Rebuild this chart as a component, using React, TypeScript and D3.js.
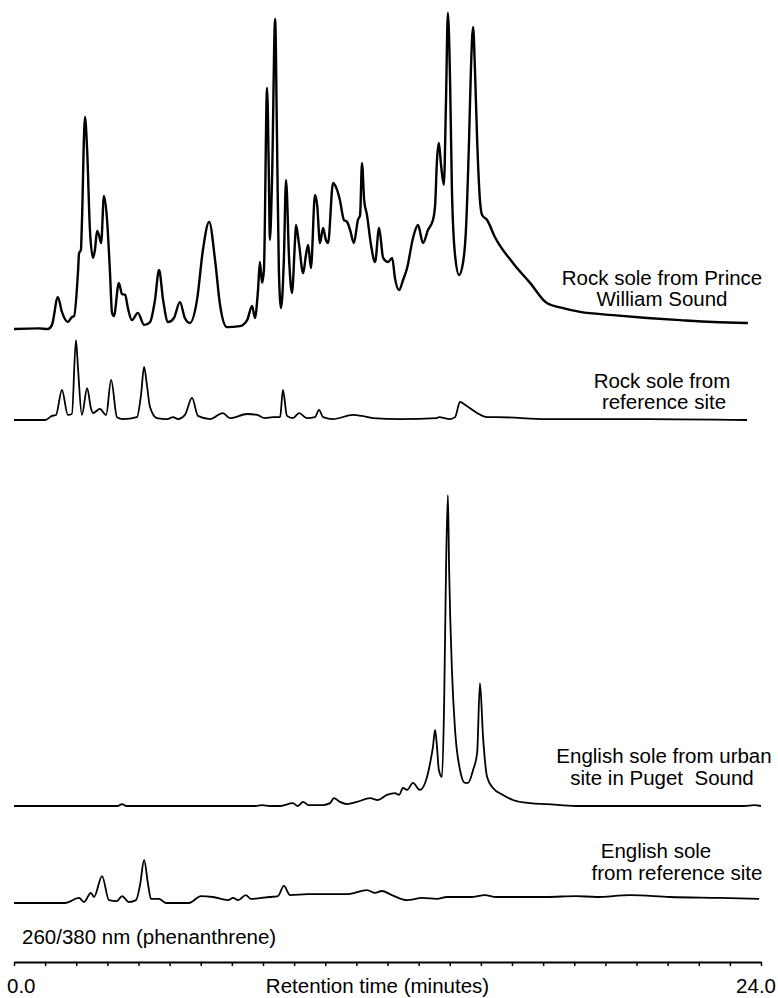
import React, { useRef, useEffect } from "react";
import * as d3 from "d3";

const width = 778;
const height = 998;

// retention time (minutes) / relative fluorescence (0-100)
const pwsTime = [0, 0.8, 1.09, 1.22, 1.41, 1.54, 1.73, 1.86, 1.93, 2.06, 2.09, 2.15, 2.18, 2.28, 2.35, 2.44, 2.54, 2.6, 2.67, 2.73, 2.8, 2.89, 2.99, 3.08, 3.15, 3.21, 3.37, 3.47, 3.57, 3.66, 3.79, 3.98, 4.18, 4.37, 4.53, 4.66, 4.79, 4.95, 5.14, 5.33, 5.49, 5.65, 5.88, 6.07, 6.27, 6.46, 6.62, 6.84, 7.26, 7.49, 7.65, 7.74, 7.84, 7.9, 7.97, 8.03, 8.13, 8.19, 8.22, 8.29, 8.39, 8.45, 8.51, 8.58, 8.67, 8.74, 8.84, 8.93, 9.03, 9.06, 9.16, 9.29, 9.38, 9.45, 9.54, 9.67, 9.74, 9.83, 9.93, 10.02, 10.09, 10.25, 10.38, 10.47, 10.6, 10.7, 10.8, 10.92, 11.05, 11.12, 11.18, 11.25, 11.34, 11.47, 11.6, 11.73, 11.86, 12.02, 12.15, 12.24, 12.37, 12.5, 12.63, 12.82, 12.98, 13.14, 13.3, 13.46, 13.53, 13.59, 13.65, 13.72, 13.81, 13.88, 13.94, 14.01, 14.07, 14.17, 14.3, 14.43, 14.52, 14.62, 14.68, 14.75, 14.81, 14.88, 14.97, 15.04, 15.2, 15.45, 16.03, 16.58, 17.12, 17.64, 18.19, 19.24, 20.34, 21.4, 22.46, 23.58];
const pwsResp = [0, 0.2, 0, 1.3, 10.1, 5.4, 2.2, 3.8, 4.1, 18.7, 24, 25, 33, 67.1, 56.6, 31.3, 22.5, 25, 31, 29.7, 27.2, 42.1, 34.5, 18.7, 5.1, 4.1, 14.6, 11.1, 10.8, 6.6, 2.8, 5.1, 1.3, 2.2, 9.2, 18.7, 9.2, 2.2, 3.5, 8.5, 3.5, 1.9, 9.2, 25, 33.9, 21.8, 7.6, 0.6, 0.9, 2.8, 7.3, 3.5, 12.3, 21.2, 14.6, 18.7, 76.3, 47.2, 28.2, 47.2, 98.1, 59.8, 18.7, 6.6, 21.8, 47.2, 21.8, 11.4, 28.2, 32.9, 26.6, 17.7, 23.4, 26.6, 19.3, 42.4, 39.2, 27.2, 32, 28.2, 27.2, 46.2, 44, 40.8, 34.5, 33.9, 31.3, 27.2, 34.5, 36.1, 52.5, 40.8, 36.1, 26.6, 21.2, 32, 22.5, 21.2, 22.5, 16.1, 12.3, 15.5, 19.3, 28.8, 32.9, 27.2, 31.3, 34.5, 39.2, 53.5, 58.9, 51.9, 45.6, 72.5, 100, 78.8, 44, 23.4, 17.1, 21.2, 31.3, 59.8, 82, 95.6, 82, 59.8, 40.8, 36.1, 34.5, 29.1, 20.9, 14.6, 8.2, 6.6, 5.4, 4.4, 3.5, 2.8, 2.2, 1.9];

const rockRefTime = [0, 1.0, 1.22, 1.35, 1.54, 1.73, 1.86, 1.99, 2.06, 2.18, 2.35, 2.47, 2.54, 2.76, 2.96, 3.12, 3.31, 3.5, 3.95, 4.08, 4.18, 4.27, 4.37, 4.59, 4.92, 5.11, 5.27, 5.49, 5.72, 5.91, 6.3, 6.71, 6.94, 7.49, 7.81, 8.06, 8.32, 8.55, 8.64, 8.77, 8.96, 9.16, 9.41, 9.67, 9.8, 9.93, 10.25, 10.89, 11.18, 11.53, 12.4, 13.59, 13.65, 14.01, 14.17, 14.33, 14.55, 14.88, 15.2, 15.52, 17.12, 20.34, 23.55];
const rockRefResp = [0, 0, 1.3, 1.6, 9.5, 1.6, 1.9, 25.3, 15.8, 1.6, 10.1, 3.8, 2.2, 3.5, 1.6, 12.7, 0.9, 0.3, 0.9, 7.9, 16.8, 11.1, 4.1, 0.6, 0.3, 0.9, 0.3, 1.6, 7.0, 1.3, 0.3, 2.2, 0.6, 1.9, 1.6, 0.6, 0.9, 0.9, 9.5, 1.3, 0.6, 2.2, 0.6, 0.9, 3.2, 0.9, 0.3, 1.6, 1.3, 0.6, 0.3, 0.6, 0.9, 0.3, 0.9, 5.7, 4.4, 2.2, 0.9, 0.9, 0.3, 0.3, 0];

const urbanTime = [0, 3.34, 3.47, 3.6, 7.74, 7.97, 8.22, 8.55, 8.96, 9.12, 9.29, 9.45, 9.93, 10.15, 10.28, 10.47, 10.7, 11.02, 11.44, 11.69, 11.98, 12.24, 12.37, 12.5, 12.63, 12.82, 13.04, 13.27, 13.37, 13.46, 13.53, 13.59, 13.65, 13.75, 13.82, 13.88, 13.94, 13.98, 14.07, 14.17, 14.33, 14.49, 14.59, 14.75, 14.88, 14.97, 15.07, 15.2, 15.39, 15.71, 16.03, 16.58, 17.12, 18.06, 23.45, 23.78, 24.0];
const urbanResp = [0, 0, 0.6, 0, 0, 0.3, 0, 0, 0.9, 0, 1.3, 0.3, 0.3, 0.9, 2.5, 1.3, 0.6, 1.3, 2.5, 1.9, 3.5, 4.1, 3.5, 5.7, 5.1, 7.3, 5.1, 9.2, 13.6, 18.7, 24.1, 18.7, 11.4, 9.2, 32.6, 74.7, 98.4, 74.7, 43.0, 24.1, 11.4, 7.3, 7.3, 11.4, 16.8, 38.9, 21.8, 9.2, 5.7, 3.5, 1.9, 0.9, 0.6, 0, 0, 0.3, 0];

const englishRefTime = [0, 1.64, 2.09, 2.25, 2.47, 2.57, 2.83, 3.05, 3.31, 3.47, 3.69, 3.92, 4.05, 4.18, 4.31, 4.4, 4.66, 4.88, 5.62, 6.01, 6.39, 6.88, 7.04, 7.2, 7.45, 7.61, 7.94, 8.22, 8.48, 8.67, 8.87, 9.45, 10.7, 11.34, 11.6, 11.82, 12.14, 12.63, 13.11, 13.59, 13.91, 14.68, 15.13, 15.49, 17.09, 18.06, 18.7, 19.79, 21.08, 22.68, 23.94];
const englishRefResp = [0, 0, 1.6, 0.3, 3.2, 1.9, 8.5, 0.9, 0.6, 2.2, 0.3, 0.9, 5.7, 13.6, 5.7, 1.3, 1.3, 0, 0, 2.2, 1.9, 0.9, 1.6, 0.9, 2.5, 1.3, 1.6, 1.9, 2.2, 5.4, 2.5, 2.8, 2.8, 4.1, 3.2, 3.8, 2.5, 0.9, 1.6, 1.3, 1.9, 1.9, 2.5, 1.9, 1.9, 2.2, 1.9, 2.5, 1.9, 1.6, 1.3];

const traceLabels = [
  ["Rock sole from Prince", "William Sound"],
  ["Rock sole from", "reference site"],
  ["English sole from urban", "site in Puget  Sound"],
  ["English sole", "from reference site"],
];

const xTicks = d3.range(0, 25, 1);

const font = "'Liberation Sans', Arial, Helvetica, sans-serif";

const x = d3.scaleLinear().domain([0, 24]).range([14, 761]);

// layout of each trace: baseline y, stroke, label placement
const layout = [
  { base: 329, sw: 2.4, lx: [662, 662], ly: [285, 306] },
  { base: 420, sw: 1.8, lx: [662, 664], ly: [388, 409] },
  { base: 806, sw: 1.8, lx: [664, 662], ly: [763, 785] },
  { base: 903, sw: 1.8, lx: [656, 677], ly: [858, 880] },
];

const series = [
  [pwsTime, pwsResp],
  [rockRefTime, rockRefResp],
  [urbanTime, urbanResp],
  [englishRefTime, englishRefResp],
];

export default function App() {
  const axisRef = useRef<SVGGElement>(null);

  useEffect(() => {
    const g = d3.select(axisRef.current);
    g.selectAll("*").remove();
    g.call(
      d3
        .axisBottom(x)
        .tickValues(xTicks)
        .tickSize(4)
        .tickSizeOuter(0)
        .tickFormat(() => "")
    );
    g.select(".domain").attr("stroke", "#000").attr("stroke-width", 2);
    g.selectAll(".tick line").attr("stroke", "#000").attr("stroke-width", 1.5);
  }, []);

  return (
    <svg
      width={width}
      height={height}
      style={{ position: "absolute", left: 0, top: 0, background: "#fff" }}
      fontFamily={font}
      fontSize={20.5}
    >
      <rect width={width} height={height} fill="#fff" />
      {series.map(([t, r], i) => {
        const L = layout[i];
        const y = d3.scaleLinear().domain([0, 100]).range([L.base, L.base - 316]);
        const pts = t.map((tt, k) => [tt, r[k]] as [number, number]);
        const line = d3
          .line<[number, number]>()
          .x((d) => x(d[0]))
          .y((d) => y(d[1]))
          .curve(d3.curveMonotoneX);
        return (
          <g key={i}>
            <path
              d={line(pts) || ""}
              fill="none"
              stroke="#000"
              strokeWidth={L.sw}
              strokeLinejoin="round"
            />
            {traceLabels[i].map((s, j) => (
              <text
                key={j}
                x={L.lx[j]}
                y={L.ly[j]}
                textAnchor="middle"
                fill="#000"
                style={{ whiteSpace: "pre" }}
              >
                {s}
              </text>
            ))}
          </g>
        );
      })}
      <text x={22} y={944} fill="#000">
        260/380 nm (phenanthrene)
      </text>
      <g ref={axisRef} transform="translate(0,962)" />
      <text x={x(0) - 7} y={993} fill="#000">
        0.0
      </text>
      <text x={x(24) + 15} y={993} textAnchor="end" fill="#000">
        24.0
      </text>
      <text x={x(12) - 10} y={993} textAnchor="middle" fill="#000">
        Retention time (minutes)
      </text>
    </svg>
  );
}
